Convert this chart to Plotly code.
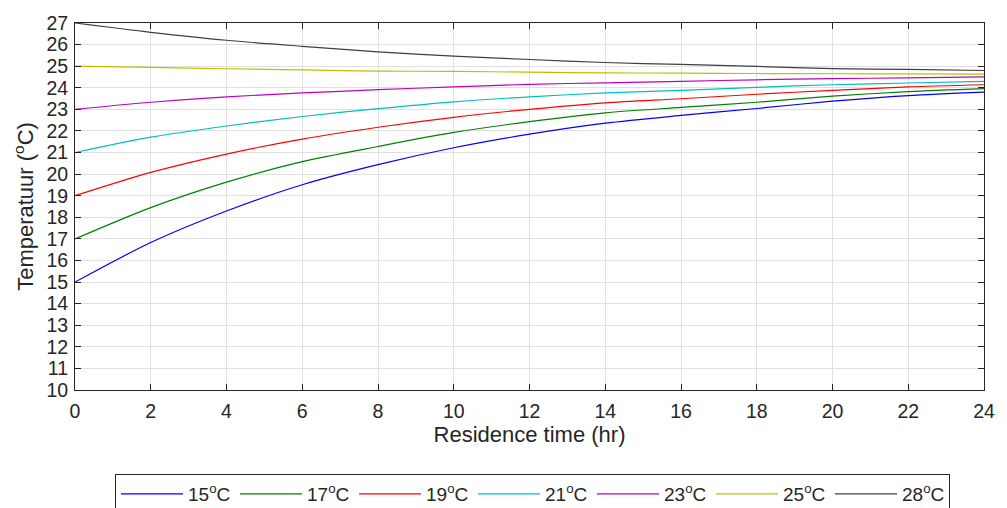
import plotly.graph_objects as go

hours = [0, 2, 4, 6, 8, 10, 12, 14, 16, 18, 20, 22, 24]
t15 = [15.0, 16.83, 18.29, 19.51, 20.44, 21.22, 21.85, 22.36, 22.72, 23.04, 23.38, 23.64, 23.80]
t17 = [17.0, 18.45, 19.63, 20.58, 21.28, 21.93, 22.43, 22.84, 23.09, 23.33, 23.61, 23.82, 23.96]
t19 = [19.0, 20.08, 20.93, 21.62, 22.17, 22.63, 23.00, 23.30, 23.49, 23.70, 23.88, 24.04, 24.14]
t21 = [21.0, 21.71, 22.23, 22.67, 23.03, 23.35, 23.58, 23.76, 23.88, 24.02, 24.14, 24.22, 24.30]
t23 = [23.0, 23.33, 23.58, 23.76, 23.91, 24.04, 24.16, 24.23, 24.30, 24.37, 24.42, 24.46, 24.50]
t25 = [25.0, 24.94, 24.88, 24.83, 24.77, 24.76, 24.72, 24.69, 24.68, 24.66, 24.65, 24.64, 24.63]
t28 = [27.0, 26.57, 26.20, 25.92, 25.66, 25.47, 25.31, 25.17, 25.08, 24.99, 24.89, 24.85, 24.80]

series = [
    ("15<sup>o</sup>C", t15, "#0000ff"),
    ("17<sup>o</sup>C", t17, "#008000"),
    ("19<sup>o</sup>C", t19, "#ff0000"),
    ("21<sup>o</sup>C", t21, "#00bfbf"),
    ("23<sup>o</sup>C", t23, "#bf00bf"),
    ("25<sup>o</sup>C", t25, "#bfbf00"),
    ("28<sup>o</sup>C", t28, "#404040"),
]

x_ticks = list(range(0, 25, 2))
y_ticks = list(range(10, 28))

fig = go.Figure()
for name, vals, col in series:
    fig.add_trace(go.Scatter(x=hours, y=vals, mode="lines", name=name,
                             line=dict(color=col, width=1.2, shape="spline", smoothing=0.8)))

font_family = "Liberation Sans, Arial, sans-serif"
axis_common = dict(showline=True, linecolor="#262626", linewidth=1, mirror="allticks",
                   ticks="inside", ticklen=6, tickcolor="#262626",
                   showgrid=True, gridcolor="#e0e0e0", gridwidth=1, zeroline=False,
                   tickfont=dict(family=font_family, size=19.5, color="#262626"))

fig.update_layout(
    width=1007, height=508,
    margin=dict(l=75, r=17, t=19, b=118),
    plot_bgcolor="white", paper_bgcolor="white",
    font=dict(family=font_family, color="#262626"),
    xaxis=dict(range=[0, 24], tickvals=x_ticks, ticklabelstandoff=4,
               title=dict(text="Residence time (hr)", font=dict(size=22), standoff=4), **axis_common),
    yaxis=dict(range=[10, 27], tickvals=y_ticks, ticklabelstandoff=2,
               title=dict(text="Temperatuur (<sup>o</sup>C)", font=dict(size=22), standoff=6), **axis_common),
    showlegend=True,
    legend=dict(orientation="h", xref="container", x=115/1007, xanchor="left",
                yref="container", y=1 - 474/508, yanchor="top",
                bordercolor="#262626", borderwidth=1, bgcolor="white",
                font=dict(family=font_family, size=19, color="#262626"),
                itemwidth=62, entrywidth=42, entrywidthmode="pixels"),
)

fig.write_html("out.html")
